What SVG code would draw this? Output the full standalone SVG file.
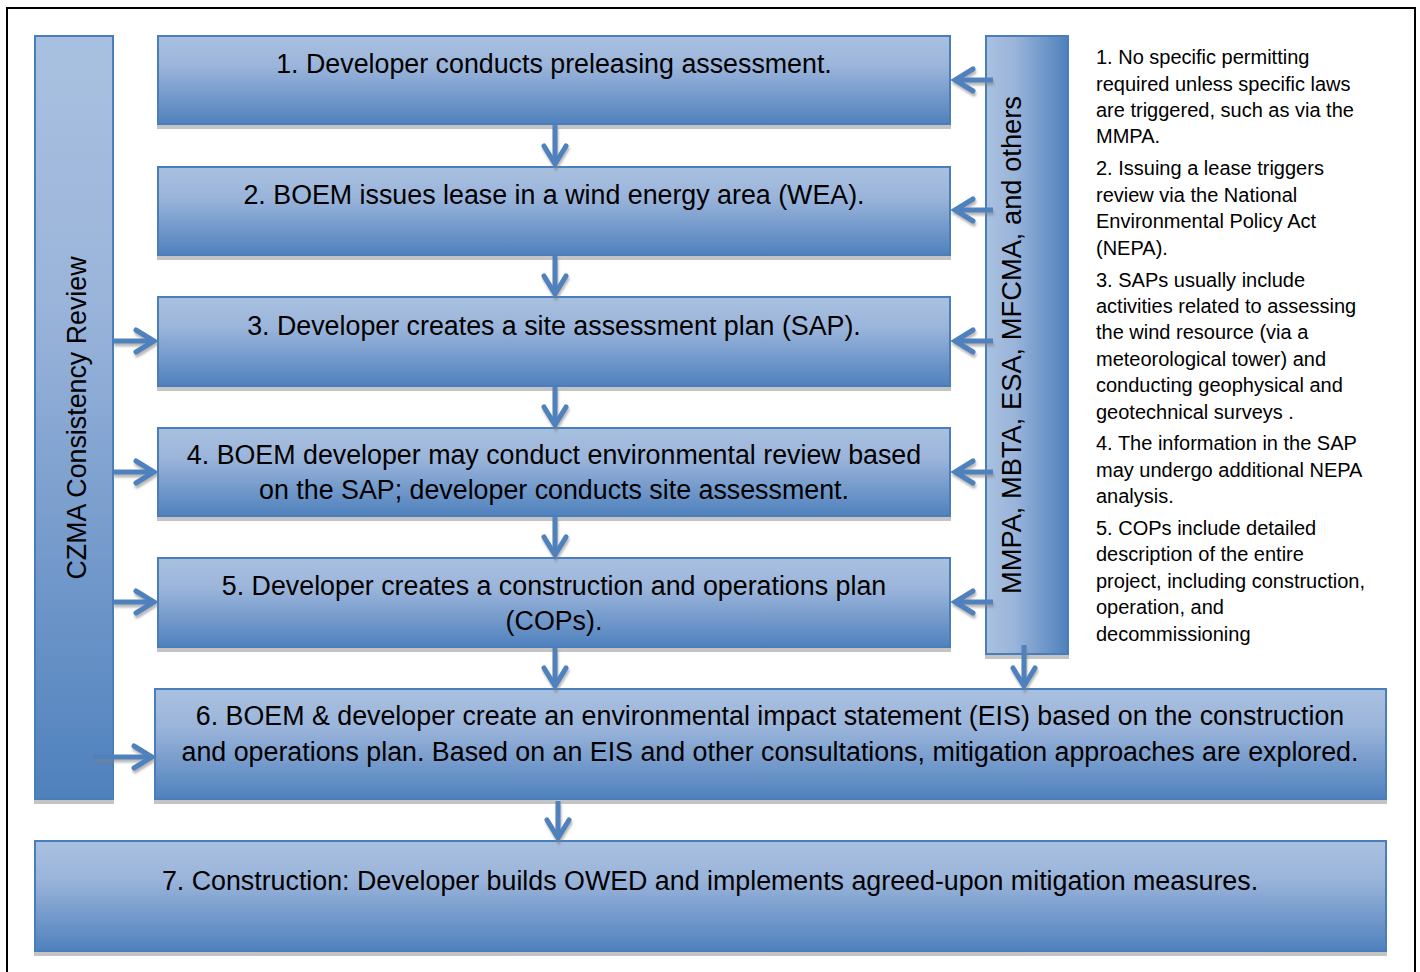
<svg xmlns="http://www.w3.org/2000/svg" width="1420" height="972" viewBox="0 0 1420 972">
<style>
.box{stroke:#4a7ebb;stroke-width:2;filter:url(#bshadow)}
.v{fill:url(#gv)}
.h{fill:url(#gh)}
.lbl{font-family:"Liberation Sans",Arial,sans-serif;font-size:26.8px;fill:#000;text-anchor:middle}
.note{font-family:"Liberation Sans",Arial,sans-serif;font-size:20px;fill:#000}
.conn path{fill:none;stroke:#4f81bd;stroke-width:5;marker-end:url(#ah)}
</style>
<defs>
<linearGradient id="gv" x1="0" y1="0" x2="0" y2="1">
<stop offset="0" stop-color="#a9c1e0"/>
<stop offset="0.35" stop-color="#9ab4da"/>
<stop offset="1" stop-color="#4f81bd"/>
</linearGradient>
<linearGradient id="gh" x1="0" y1="0" x2="1" y2="0">
<stop offset="0" stop-color="#a9c1e0"/>
<stop offset="0.35" stop-color="#9ab4da"/>
<stop offset="1" stop-color="#4f81bd"/>
</linearGradient>
<filter id="bshadow" x="-5%" y="-5%" width="110%" height="115%">
<feDropShadow dx="0" dy="4" stdDeviation="0.6" flood-color="#c4c4c4" flood-opacity="1"/>
</filter>
<filter id="ashadow" x="-10%" y="-10%" width="120%" height="120%">
<feDropShadow dx="1" dy="3" stdDeviation="1" flood-color="#808080" flood-opacity="0.55"/>
</filter>
<marker id="ah" markerUnits="userSpaceOnUse" markerWidth="40" markerHeight="40" viewBox="-25 -20 40 40" refX="0" refY="0" orient="auto" overflow="visible">
<path d="M-18,-11 L0,0 L-18,11" fill="none" stroke="#4f81bd" stroke-width="5" stroke-linecap="round" stroke-linejoin="miter"/>
</marker>
</defs>
<rect x="0" y="0" width="1420" height="972" fill="#fff"/>
<rect x="7" y="8" width="1408" height="1000" fill="none" stroke="#000" stroke-width="2"/>

<g id="czma">
<rect class="box v" x="35" y="36" width="78" height="763"/>
<text class="lbl" transform="translate(86,418) rotate(-90)">CZMA Consistency Review</text>
</g>
<g id="laws">
<rect class="box h" x="986" y="36" width="82" height="618"/>
<text class="lbl" style="font-size:27.3px" transform="translate(1021,345) rotate(-90)">MMPA, MBTA, ESA, MFCMA, and others</text>
</g>
<g id="step1">
<rect class="box v" x="158" y="36" width="792" height="88"/>
<text class="lbl" x="554" y="73">1. Developer conducts preleasing assessment.</text>
</g>
<g id="step2">
<rect class="box v" x="158" y="167" width="792" height="88"/>
<text class="lbl" x="554" y="204">2. BOEM issues lease in a wind energy area (WEA).</text>
</g>
<g id="step3">
<rect class="box v" x="158" y="297" width="792" height="89"/>
<text class="lbl" x="554" y="335">3. Developer creates a site assessment plan (SAP).</text>
</g>
<g id="step4">
<rect class="box v" x="158" y="428" width="792" height="88"/>
<text class="lbl" x="554" y="464">4. BOEM developer may conduct environmental review based</text>
<text class="lbl" x="554" y="499">on the SAP; developer conducts site assessment.</text>
</g>
<g id="step5">
<rect class="box v" x="158" y="558" width="792" height="89"/>
<text class="lbl" x="554" y="595">5. Developer creates a construction and operations plan</text>
<text class="lbl" x="554" y="630">(COPs).</text>
</g>
<g id="step6">
<rect class="box v" x="155" y="689" width="1231" height="110"/>
<text class="lbl" x="770" y="725">6. BOEM &amp; developer create an environmental impact statement (EIS) based on the construction</text>
<text class="lbl" x="770" y="761">and operations plan. Based on an EIS and other consultations, mitigation approaches are explored.</text>
</g>
<g id="step7">
<rect class="box v" x="35" y="841" width="1351" height="110"/>
<text class="lbl" x="710" y="890">7. Construction: Developer builds OWED and implements agreed-upon mitigation measures.</text>
</g>
<g id="notes">
<text class="note" x="1096" y="64">1. No specific permitting</text>
<text class="note" x="1096" y="91">required unless specific laws</text>
<text class="note" x="1096" y="117">are triggered, such as via the</text>
<text class="note" x="1096" y="143">MMPA.</text>
<text class="note" x="1096" y="175">2. Issuing a lease triggers</text>
<text class="note" x="1096" y="202">review via the National</text>
<text class="note" x="1096" y="228">Environmental Policy Act</text>
<text class="note" x="1096" y="255">(NEPA).</text>
<text class="note" x="1096" y="287">3. SAPs usually include</text>
<text class="note" x="1096" y="313">activities related to assessing</text>
<text class="note" x="1096" y="339">the wind resource (via a</text>
<text class="note" x="1096" y="366">meteorological tower) and</text>
<text class="note" x="1096" y="392">conducting geophysical and</text>
<text class="note" x="1096" y="419">geotechnical surveys .</text>
<text class="note" x="1096" y="450">4. The information in the SAP</text>
<text class="note" x="1096" y="477">may undergo additional NEPA</text>
<text class="note" x="1096" y="503">analysis.</text>
<text class="note" x="1096" y="535">5. COPs include detailed</text>
<text class="note" x="1096" y="561">description of the entire</text>
<text class="note" x="1096" y="588">project, including construction,</text>
<text class="note" x="1096" y="614">operation, and</text>
<text class="note" x="1096" y="641">decommissioning</text>
</g>
<g id="connectors" class="conn" filter="url(#ashadow)">
<path d="M555 125 V164"/>
<path d="M555 256 V294"/>
<path d="M555 387 V425"/>
<path d="M555 517 V555"/>
<path d="M555 648 V686"/>
<path d="M558 801 V838"/>
<path d="M1024 645 V686"/>
<path d="M993 80 H955"/>
<path d="M993 210 H955"/>
<path d="M993 341 H955"/>
<path d="M993 472 H955"/>
<path d="M993 602 H955"/>
<path d="M113 341 H154"/>
<path d="M113 472 H154"/>
<path d="M113 602 H154"/>
<path d="M93 757 H152"/>
</g>
</svg>
